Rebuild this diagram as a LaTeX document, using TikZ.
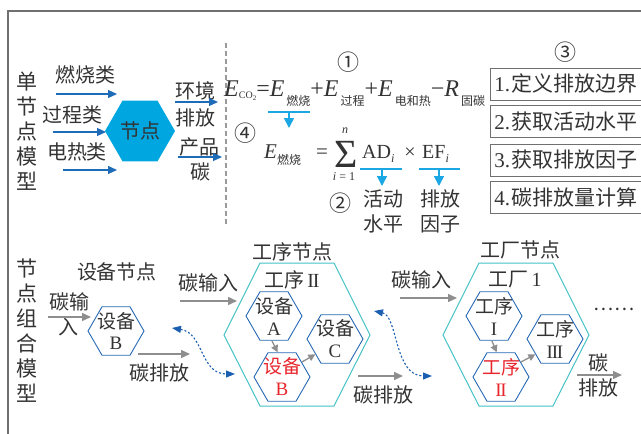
\documentclass[tikz,border=0pt]{standalone}
\usepackage{fontspec}
\setmainfont{Liberation Serif}
\newfontfamily\cjk{Noto Sans CJK SC}
\usetikzlibrary{arrows.meta,shapes.geometric,calc}
\definecolor{txtc}{HTML}{333333}
\definecolor{framec}{HTML}{707070}
\definecolor{dashc}{HTML}{9A9A9A}
\definecolor{arrb}{HTML}{1E6BB8}
\definecolor{hexfill}{HTML}{00A6DF}
\definecolor{cyanc}{HTML}{1AA7E4}
\definecolor{hexb}{HTML}{2468B4}
\definecolor{bigc}{HTML}{45C2C6}
\definecolor{garc}{HTML}{8E8E8E}
\definecolor{redc}{HTML}{E8262D}
\definecolor{dotc}{HTML}{1A5FB0}
\newcommand{\myfs}[1]{\fontsize{#1}{#1}\selectfont}
\newcommand{\csub}[1]{\raisebox{-9pt}{\cjk\myfs{12}#1}}
\newcommand{\rI}{\textrm{I}}
\newcommand{\rII}{\textrm{I\kern-1.2ptI}}
\newcommand{\rIII}{\textrm{I\kern-1.2ptI\kern-1.2ptI}}
\begin{document}
\begin{tikzpicture}[x=1pt,y=-1pt,
  lbl/.style={text=txtc, inner sep=0pt, font=\cjk\myfs{20}},
  vlbl/.style={text=txtc, inner sep=0pt, align=center, font=\cjk\fontsize{21}{25}\selectfont},
  hexs/.style={regular polygon, regular polygon sides=6, minimum size=56pt, inner sep=0pt, draw=hexb, line width=0.9pt},
  htxt/.style={text=txtc, inner sep=0pt, align=center, font=\cjk\fontsize{19}{22}\selectfont},
  bigh/.style={draw=bigc, line width=1pt},
  garr/.style={draw=garc, line width=1.5pt, -{Triangle[length=9pt,width=8pt]}},
  sarr/.style={draw=garc, line width=1.3pt, -{Triangle[length=7pt,width=7pt]}},
  barr/.style={draw=arrb, line width=1.3pt, -{Triangle[length=9pt,width=8pt]}},
  carr/.style={draw=cyanc, line width=1.6pt, -{Triangle[length=10pt,width=10pt]}},
  uline/.style={draw=cyanc, line width=1.6pt},
  darr/.style={draw=dotc, line width=1.1pt, dash pattern=on 2pt off 2pt, {Triangle[length=9pt,width=7pt]}-{Triangle[length=9pt,width=7pt]}},
  numc/.style={text=txtc, inner sep=0pt, font=\cjk\myfs{22}},
  stepbox/.style={draw=framec, line width=0.8pt, anchor=west, minimum height=32pt, text width=165pt, inner xsep=4pt, align=left, text=txtc, font=\myfs{21}},
  eq/.style={text=txtc, inner sep=0pt}
]
\useasboundingbox (0,0) rectangle (641,434);
\clip (0,0) rectangle (641,434);
\draw[draw=framec, line width=1.2pt] (8,11) rectangle (670,460);

% ---------- single node model ----------
\node[vlbl] (single) at (27,131) {单\\节\\点\\模\\型};
\node[lbl] (l1) at (86,75) {燃烧类};
\node[lbl] (l2) at (72,115) {过程类};
\node[lbl] (l3) at (77,152) {电热类};
\coordinate (a1s) at (56,94);  \coordinate (a1e) at (117,94);
\coordinate (a2s) at (53,132); \coordinate (a2e) at (106,132);
\coordinate (a3s) at (63,170); \coordinate (a3e) at (117,170);
\draw[barr] (a1s) -- (a1e);
\draw[barr] (a2s) -- (a2e);
\draw[barr] (a3s) -- (a3e);
\node[regular polygon, regular polygon sides=6, minimum size=70pt, inner sep=0pt, fill=hexfill] (hub) at (140,131) {};
\node[lbl] (hubt) at (hub.center) {节点};
\node[lbl] (o1a) at (195,91) {环境};
\node[lbl] (o1b) at (195,118) {排放};
\node[lbl] (o2a) at (199,147) {产品};
\node[lbl] (o2b) at (200,172) {碳};
\coordinate (b1s) at (175,102); \coordinate (b1e) at (218,102);
\coordinate (b2s) at (178,157); \coordinate (b2e) at (222,157);
\draw[barr] (b1s) -- (b1e);
\draw[barr] (b2s) -- (b2e);

\coordinate (dv1) at (226,43); \coordinate (dv2) at (226,224);
\draw[draw=dashc, line width=1.2pt, dash pattern=on 5pt off 3pt] (dv1) -- (dv2);

% ---------- formulas ----------
\node[numc] (n1) at (348,62) {①};
\node[numc] (n4) at (245,133) {④};
\node[numc] (n2) at (340,203) {②};
\node[numc] (n3) at (565,52) {③};

\node[eq, anchor=base west, font=\myfs{24}] (eqa) at (224,96)
 {\textit{E}\raisebox{-2pt}{\myfs{10}CO\raisebox{-2.5pt}{\myfs{7}2}}=\textit{E}\kern2pt\csub{燃烧}+\textit{E}\kern2pt\csub{过程}+\textit{E}\kern2pt\csub{电和热}−\textit{R}\kern2pt\csub{固碳}};

\coordinate (u1a) at (268,112); \coordinate (u1b) at (310,112);
\coordinate (u1m) at (289,112); \coordinate (u1t) at (289,128);
\draw[uline] (u1a) -- (u1b);
\draw[carr] (u1m) -- (u1t);

\node[eq, anchor=base west, font=\myfs{21}] (eb) at (264,158) {\textit{E}\raisebox{-6pt}{\cjk\myfs{12}燃烧}};
\node[eq, anchor=base, font=\myfs{21}] (eqs) at (322,158) {=};
\node[eq, anchor=base, font=\myfs{40}] (sig) at (346,167) {\raisebox{0pt}[26pt][0pt]{Σ}};
\node[eq, font=\itshape\myfs{12}] (nn) at (345,131) {n};
\node[eq, font=\myfs{12}] (ii) at (344,177) {\textit{i} = 1};
\node[eq, anchor=base west, font=\myfs{20}] (ad) at (362,158) {AD\raisebox{-4pt}{\myfs{12}\textit{i}}};
\node[eq, anchor=base, font=\myfs{20}] (tm) at (410,158) {×};
\node[eq, anchor=base west, font=\myfs{20}] (ef) at (422,158) {EF\raisebox{-4pt}{\myfs{12}\textit{i}}};

\coordinate (u2a) at (360,169); \coordinate (u2b) at (402,169);
\coordinate (u2m) at (382,169); \coordinate (u2t) at (382,186);
\coordinate (u3a) at (419,169); \coordinate (u3b) at (460,169);
\coordinate (u3m) at (439,169); \coordinate (u3t) at (439,186);
\draw[uline] (u2a) -- (u2b);
\draw[carr] (u2m) -- (u2t);
\draw[uline] (u3a) -- (u3b);
\draw[carr] (u3m) -- (u3t);
\node[lbl] (hd1) at (383,199) {活动};
\node[lbl] (hd2) at (383,224) {水平};
\node[lbl] (pf1) at (440,199) {排放};
\node[lbl] (pf2) at (440,224) {因子};

% ---------- steps ----------
\node[stepbox] (s1) at (490,84) {1.\kern1pt{\cjk 定义排放边界}};
\node[stepbox] (s2) at (490,121.5) {2.\kern1pt{\cjk 获取活动水平}};
\node[stepbox] (s3) at (490,160) {3.\kern1pt{\cjk 获取排放因子}};
\node[stepbox] (s4) at (490,197.5) {4.\kern1pt{\cjk 碳排放量计算}};

% ---------- combined model ----------
\node[vlbl] (comb) at (27,330.5) {节\\点\\组\\合\\模\\型};
\node[lbl] (devn) at (117,272) {设备节点};
\node[lbl] (ci1a) at (69,302) {碳输};
\node[lbl] (ci1b) at (68,327) {入};
\coordinate (c1s) at (48,317); \coordinate (c1e) at (91,317);
\draw[garr] (c1s) -- (c1e);
\node[hexs] (hB1) at (116,331) {};
\node[htxt] (tB1) at (hB1.center) {设备\\[-1pt]\textrm{B}};
\coordinate (e1s) at (138,354); \coordinate (e1e) at (190,354);
\draw[garr] (e1s) -- (e1e);
\node[lbl] (ce1) at (159,373) {碳排放};
\coordinate (d1s) at (172,328); \coordinate (d1e) at (235,374);
\draw[darr] (d1s) .. controls (204,333) and (200,374) .. (d1e);

\node[lbl] (ci2) at (208,283) {碳输入};
\coordinate (c2s) at (180,301); \coordinate (c2e) at (237,301);
\draw[garr] (c2s) -- (c2e);

% process hexagon
\coordinate (P) at (297,335);
\draw[bigh] ($(P)+(-73,0)$) -- ($(P)+(-37,-72)$) -- ($(P)+(37,-72)$) -- ($(P)+(73,0)$) -- ($(P)+(37,71)$) -- ($(P)+(-37,71)$) -- cycle;
\node[lbl] (procn) at (292,252) {工序节点};
\node[lbl] (proc2) at (292,280) {工序\kern3pt\rII};
\node[hexs] (hA) at (274,316) {};
\node[htxt] (tA) at (hA.center) {设备\\\textrm{A}};
\node[hexs] (hB) at (282,377) {};
\node[htxt, text=redc] (tB) at (hB.center) {设备\\\textrm{B}};
\node[hexs] (hC) at (335,339) {};
\node[htxt] (tC) at (hC.center) {设备\\\textrm{C}};
\draw[sarr] (hA.265) -- (hB.100);
\draw[sarr] (hB.37) -- (hC.218);
\coordinate (e2s) at (358,376); \coordinate (e2e) at (403,376);
\draw[garr] (e2s) -- (e2e);
\node[lbl] (ce2) at (383,395) {碳排放};
\coordinate (d2s) at (374,311); \coordinate (d2e) at (432,376);
\draw[darr] (d2s) .. controls (398,316) and (394,376) .. (d2e);

\node[lbl] (ci3) at (421,280) {碳输入};
\coordinate (c3s) at (400,298); \coordinate (c3e) at (457,298);
\draw[garr] (c3s) -- (c3e);

% factory hexagon
\coordinate (F) at (516,335);
\draw[bigh] ($(F)+(-73,0)$) -- ($(F)+(-37,-72)$) -- ($(F)+(37,-72)$) -- ($(F)+(73,0)$) -- ($(F)+(37,71)$) -- ($(F)+(-37,71)$) -- cycle;
\node[lbl] (facn) at (520,250) {工厂节点};
\node[lbl] (fac1) at (515,280) {工厂\,\textrm{1}};
\node[hexs] (hI) at (494,316) {};
\node[htxt] (tI) at (hI.center) {工序\\\rI};
\node[hexs] (hII) at (501,377) {};
\node[htxt, text=redc] (tII) at (hII.center) {工序\\\rII};
\node[hexs] (hIII) at (555,339) {};
\node[htxt] (tIII) at (hIII.center) {工序\\\rIII};
\draw[sarr] (hI.265) -- (hII.100);
\draw[sarr] (hII.37) -- (hIII.218);
\node[lbl, font=\cjk\myfs{19}] (dots) at (614,309) {……};
\node[lbl] (ce3a) at (598,363) {碳};
\coordinate (e3s) at (577,375); \coordinate (e3e) at (622,375);
\draw[garr] (e3s) -- (e3e);
\node[lbl] (ce3b) at (598,388) {排放};
\end{tikzpicture}
\end{document}
